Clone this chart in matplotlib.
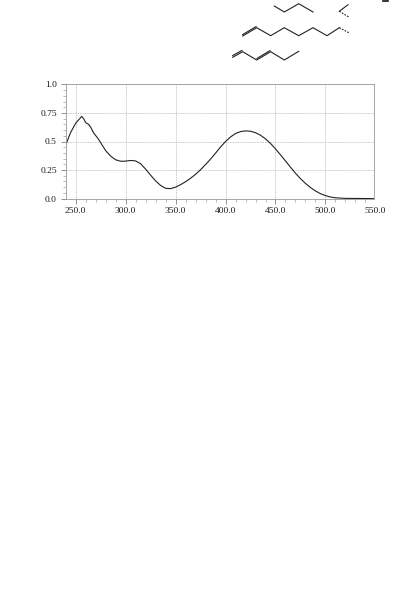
import matplotlib
matplotlib.use("Agg")
import matplotlib.pyplot as plt
from matplotlib.ticker import MultipleLocator

plt.rcParams['font.family'] = ['Liberation Serif', 'DejaVu Serif']

# spectrum
wavelength = [240, 245, 250, 253, 256, 258, 260, 263, 265, 268, 272, 275, 280, 285, 290, 295,
              300, 305, 310, 315, 320, 325, 330, 335, 340, 345, 350, 355, 360, 365, 370, 375,
              380, 385, 390, 395, 400, 405, 410, 415, 420, 425, 430, 435, 440, 445, 450, 455,
              460, 465, 470, 475, 480, 485, 490, 495, 500, 505, 510, 520, 548]
absorbance = [0.47, 0.58, 0.66, 0.69, 0.72, 0.70, 0.665, 0.65, 0.625, 0.575, 0.53, 0.49, 0.42,
              0.372, 0.34, 0.327, 0.328, 0.334, 0.33, 0.305, 0.258, 0.205, 0.155, 0.115, 0.09,
              0.087, 0.10, 0.122, 0.148, 0.178, 0.213, 0.253, 0.298, 0.346, 0.398, 0.452, 0.50,
              0.54, 0.57, 0.587, 0.593, 0.59, 0.577, 0.555, 0.523, 0.483, 0.435, 0.383, 0.33,
              0.275, 0.222, 0.175, 0.133, 0.097, 0.067, 0.043, 0.026, 0.014, 0.007, 0.002, 0.0]

x_ticks = [250, 300, 350, 400, 450, 500]
x_labels = ['250.0', '300.0', '350.0', '400.0', '450.0', '500.0']
last_x_tick = 550
last_x_label = '550.0'
y_ticks = [0, 0.25, 0.5, 0.75, 1.0]
y_labels = ['0.0', '0.25', '0.5', '0.75', '1.0']

# molecule fragments above the plot, in image pixels
chain_top = [(274.3, 6), (284.3, 12), (298.7, 3.7), (313, 12)]
frag_right = [(348, 4.7), (339.3, 11.3)]
frag_right_dash = [(339.3, 11.3), (349.3, 17.3)]
chain_mid = [(242.7, 36), (256.7, 27.7), (270.7, 35.7), (284.3, 27.7), (298.7, 35.7),
             (313, 27.7), (327, 35.7), (339.3, 27.7)]
chain_mid_dash = [(339.3, 27.7), (350, 33.3)]
chain_low = [(232.7, 57.3), (242.7, 51.7), (256.7, 60), (270.7, 51.7), (284.3, 60), (298.7, 51.3)]
double_mid = [(242.7, 34.6), (256, 26.6)]
double_low_a = [(232.7, 55.6), (242, 50.4)]
double_low_b = [(257, 58.4), (270, 50.6)]

W, H = 410, 595
fig = plt.figure(figsize=(W / 100, H / 100), dpi=100)

left, right, top, bottom = 66, 373.7, 84.4, 198.6
ax = fig.add_axes([left / W, 1 - bottom / H, (right - left) / W, (bottom - top) / H])
ax.plot(wavelength, absorbance, color='#222222', lw=0.8)
ax.set_xlim(240.3, 548.3)
ax.set_ylim(0, 1.0)
ax.set_xticks(x_ticks)
ax.set_xticklabels(x_labels)
ax.set_yticks(y_ticks)
ax.set_yticklabels(y_labels)
ax.xaxis.set_minor_locator(MultipleLocator(10))
ax.yaxis.set_minor_locator(MultipleLocator(0.05))
ax.grid(True, which='major', color='#b5b5b5', lw=0.6, ls=(0, (1, 1)))
ax.tick_params(axis='both', which='major', labelsize=6.8, length=3.6, width=0.5, color='#666666',
               labelcolor='#1a1a1a')
ax.tick_params(axis='x', which='major', pad=2.8)
ax.tick_params(axis='y', which='major', pad=3)
ax.tick_params(axis='both', which='minor', length=2, width=0.4, color='#888888')
for s in ax.spines.values():
    s.set_color('#999999')
    s.set_linewidth(0.6)

# the last label sits just past the right edge of the frame
ax.annotate(last_x_label, xy=(last_x_tick, 0), xycoords=('data', 'axes fraction'),
            xytext=(0, -6.4), textcoords='offset points', ha='center', va='top',
            fontsize=6.8, color='#1a1a1a', annotation_clip=False)

# overlay in pixel coordinates for the structures
ov = fig.add_axes([0, 0, 1, 1])
ov.set_xlim(0, W)
ov.set_ylim(H, 0)
ov.axis('off')
for seg in [chain_top, frag_right, chain_mid, chain_low, double_mid, double_low_a, double_low_b]:
    ov.plot([p[0] for p in seg], [p[1] for p in seg], color='#222222', lw=0.8)
for seg in [frag_right_dash, chain_mid_dash]:
    ov.plot([p[0] for p in seg], [p[1] for p in seg], color='#222222', lw=0.8, ls=(0, (1.5, 1.2)))
ov.plot([383.5, 388], [0.5, 0.5], color='#111111', lw=1.2)

fig.savefig('out.png', dpi=100)
